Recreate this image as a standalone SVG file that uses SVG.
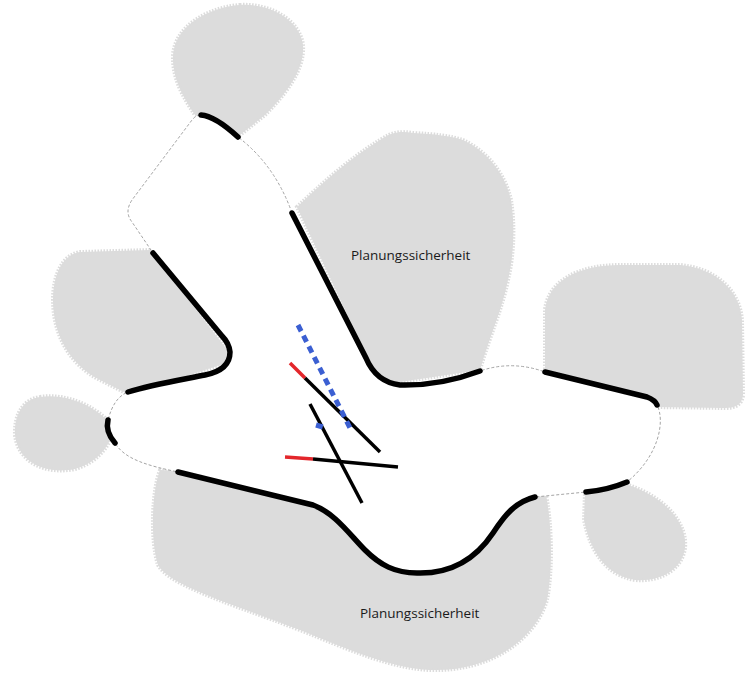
<svg xmlns="http://www.w3.org/2000/svg" width="745" height="678" viewBox="0 0 745 678">
<style>
.blob{fill:#dcdcdc;stroke:#dcdcdc;stroke-width:4;stroke-dasharray:1.5 1.5}
.area{fill:#ffffff;stroke:#9a9a9a;stroke-width:0.9;stroke-dasharray:3 2}
.edge{fill:none;stroke:#000;stroke-width:5.5;stroke-linecap:round;stroke-linejoin:round}
.ln{fill:none;stroke:#000;stroke-width:3.5}
.red{fill:none;stroke:#e3262b;stroke-width:3.5}
.blue{fill:none;stroke:#3b5fd2;stroke-width:5;stroke-dasharray:7 5}
.lbl{font-family:"Open Sans","Liberation Sans",sans-serif;font-size:13.5px;font-weight:500;fill:#1a1a1a}
</style>
<rect width="745" height="678" fill="#ffffff"/>
<g id="blobs">
<path id="blob-top" class="blob" d="M 240,5 C 270,3 300,20 303,45 C 305,70 285,95 265,115 L 240,135 L 195,115 C 185,100 172,80 173,55 C 175,25 210,7 240,5 Z"/>
<path id="blob-upper-right" class="blob" d="M 297,207 C 320,185 350,158 380,140 C 392,132 400,131 413,133 C 435,134 450,136 463,140 C 485,150 505,172 511,200 C 515,225 514,255 508,280 C 502,310 490,335 480,370 L 380,385 Z"/>
<path id="blob-left" class="blob" d="M 150,250 L 80,252 C 62,255 53,275 53,300 C 53,335 70,365 100,380 L 130,395 L 235,360 Z"/>
<path id="blob-small-left" class="blob" d="M 40,397 C 65,393 95,405 112,425 C 115,440 100,462 75,469 C 45,475 18,462 15,435 C 14,412 25,399 40,397 Z"/>
<path id="blob-right" class="blob" d="M 545,372 L 545,310 C 548,280 580,265 620,265 L 680,265 C 715,268 740,290 742,320 L 743,395 C 742,405 735,408 725,408 L 655,407 Z"/>
<path id="blob-small-right" class="blob" d="M 585,492 L 628,485 C 660,495 688,520 685,548 C 682,570 660,582 635,580 C 605,575 590,550 584,520 Z"/>
<path id="blob-lower" class="blob" d="M 160,470 C 152,490 150,540 158,565 C 170,585 220,600 300,630 C 350,650 390,668 430,670 C 490,672 535,640 547,600 C 553,570 552,520 545,490 Z"/>
<text class="lbl" x="351" y="260">Planungssicherheit</text>
<text class="lbl" x="360" y="618">Planungssicherheit</text>
</g>
<g id="area">
<path class="area" d="M 201,115 Q 215,116 238,137 Q 275,165 292,213 L 366,358 Q 376,382 400,385 Q 440,386 480,371 Q 512,360 545,372 L 647,397 Q 655,400 657,405 C 665,420 660,455 627,482 Q 608,490 586,492 L 535,497 C 515,502 505,515 493,533 C 475,560 450,574 417,573 C 395,573 380,565 365,550 C 350,535 335,513 313,505 L 178,472 C 150,466 125,460 115,443 C 108,435 106,428 108,420 C 112,405 118,396 128,392 C 150,385 180,380 205,375 Q 230,370 230,352 Q 229,343 222,336 L 153,253 L 132,222 Q 124,212 132,200 L 192,120 Q 196,115 201,115 Z"/>
</g>
<g id="edges">
<path class="edge" d="M 201,115 Q 215,116 238,137"/>
<path class="edge" d="M 292,213 L 366,358 Q 376,382 400,385 Q 440,386 480,371"/>
<path class="edge" d="M 545,372 L 647,397 Q 655,400 657,405"/>
<path class="edge" d="M 627,482 Q 608,490 586,492"/>
<path class="edge" d="M 535,497 C 515,502 505,515 493,533 C 475,560 450,574 417,573 C 395,573 380,565 365,550 C 350,535 335,513 313,505 L 178,472"/>
<path class="edge" d="M 115,443 C 108,435 106,428 108,420"/>
<path class="edge" d="M 128,392 C 150,385 180,380 205,375 Q 230,370 230,352 Q 229,343 222,336 L 153,253"/>
</g>
<g id="lines">
<line class="red" x1="290" y1="363" x2="305" y2="378"/>
<line class="ln" x1="305" y1="378" x2="380" y2="452"/>
<line class="ln" x1="310" y1="404" x2="362" y2="503"/>
<line class="red" x1="285" y1="457" x2="313" y2="459"/>
<line class="ln" x1="313" y1="459" x2="398" y2="467"/>
<line class="blue" x1="298" y1="325" x2="350" y2="428"/>
<line class="blue" x1="316" y1="425" x2="326" y2="428" stroke-dasharray="3 3"/>
</g>
</svg>
